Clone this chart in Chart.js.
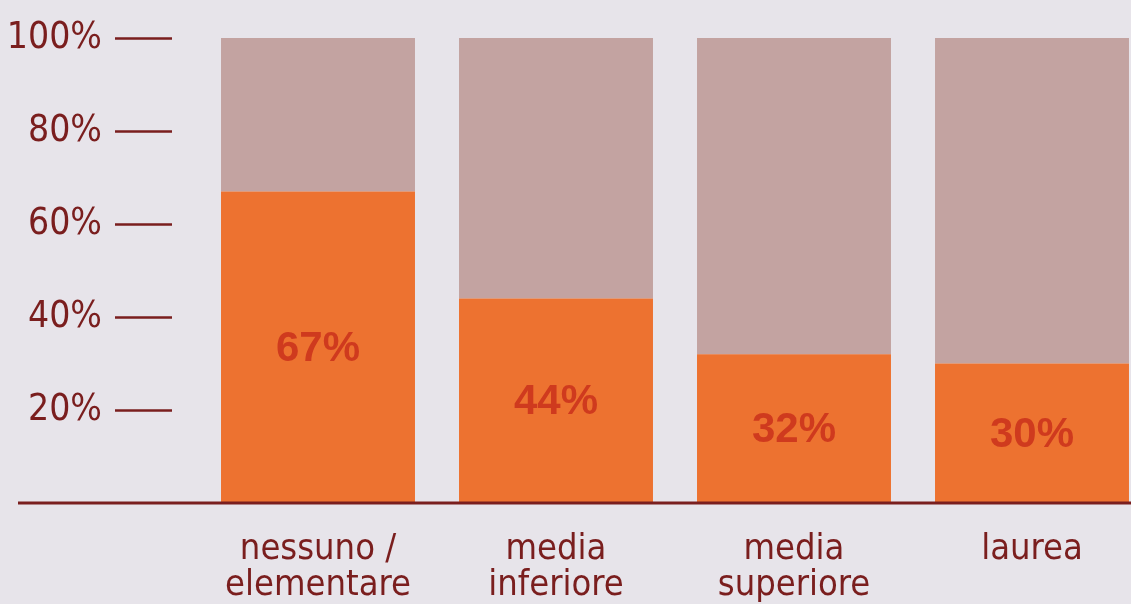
<!DOCTYPE html>
<html>
<head>
<meta charset="utf-8">
<script src="https://cdn.jsdelivr.net/npm/chart.js@4/dist/chart.umd.min.js"></script>
<style>
  html, body { margin: 0; padding: 0; background: #e7e4ea; overflow: hidden; }
  #wrap { width: 1131px; height: 604px; overflow: hidden; }
</style>
</head>
<body>
<div id="wrap"><canvas id="chart" width="1160" height="604"></canvas></div>
<script>
// data
const categories = [['nessuno /', 'elementare'], ['media', 'inferiore'], ['media', 'superiore'], ['laurea']];
const shareValues = [67, 44, 32, 30];
const restValues = [33, 56, 68, 70];
const yTickValues = [20, 40, 60, 80, 100];

const darkRed = '#7a1e1e';

// short dashes next to the y labels + the long baseline
const axisMarks = {
  id: 'axisMarks',
  afterDraw(chart) {
    const ctx = chart.ctx;
    const y = chart.scales.y;
    ctx.save();
    ctx.strokeStyle = darkRed;
    ctx.lineWidth = 2.5;
    yTickValues.forEach(v => {
      const py = Math.round(y.getPixelForValue(v)) + 0.5;
      ctx.beginPath();
      ctx.moveTo(115, py);
      ctx.lineTo(172, py);
      ctx.stroke();
    });
    const base = y.getPixelForValue(0);
    ctx.lineWidth = 3;
    ctx.beginPath();
    ctx.moveTo(18, base);
    ctx.lineTo(chart.width, base);
    ctx.stroke();
    ctx.restore();
  }
};

// percentage written in the middle of the orange part
const valueLabels = {
  id: 'valueLabels',
  afterDatasetsDraw(chart) {
    const ctx = chart.ctx;
    const meta = chart.getDatasetMeta(0);
    ctx.save();
    ctx.fillStyle = '#cf3a1e';
    ctx.font = 'bold 42px "Liberation Sans", Arial, sans-serif';
    ctx.textAlign = 'center';
    ctx.textBaseline = 'middle';
    meta.data.forEach((bar, i) => {
      const mid = (bar.y + bar.base) / 2 + 2;
      ctx.fillText(shareValues[i] + '%', bar.x, mid);
    });
    ctx.restore();
  }
};

new Chart(document.getElementById('chart'), {
  type: 'bar',
  data: {
    labels: categories,
    datasets: [
      { data: shareValues, backgroundColor: '#ed7230', borderWidth: 0 },
      { data: restValues, backgroundColor: '#c3a3a1', borderWidth: 0 }
    ]
  },
  options: {
    responsive: false,
    animation: false,
    layout: { padding: { top: 38, right: 9, left: 0, bottom: 0 } },
    barPercentage: 0.815,
    categoryPercentage: 1,
    plugins: { legend: { display: false }, tooltip: { enabled: false } },
    scales: {
      x: {
        stacked: true,
        grid: { display: false, drawTicks: false },
        border: { display: false },
        afterFit: s => { s.height = 101; },
        ticks: {
          color: darkRed,
          padding: 28,
          maxRotation: 0,
          autoSkip: false,
          font: { family: '"DejaVu Sans Condensed", "DejaVu Sans", sans-serif', size: 36, lineHeight: 1.02 }
        }
      },
      y: {
        stacked: true,
        min: 0,
        max: 100,
        grid: { display: false, drawTicks: false },
        border: { display: false },
        afterFit: s => { s.width = 199; s.paddingTop = 0; s.paddingBottom = 0; },
        afterBuildTicks: s => { s.ticks = yTickValues.map(v => ({ value: v })); },
        ticks: {
          color: darkRed,
          padding: 97,
          callback: v => v + '%',
          font: { family: '"DejaVu Sans Condensed", sans-serif', size: 37 }
        }
      }
    }
  },
  plugins: [axisMarks, valueLabels]
});
</script>
</body>
</html>
